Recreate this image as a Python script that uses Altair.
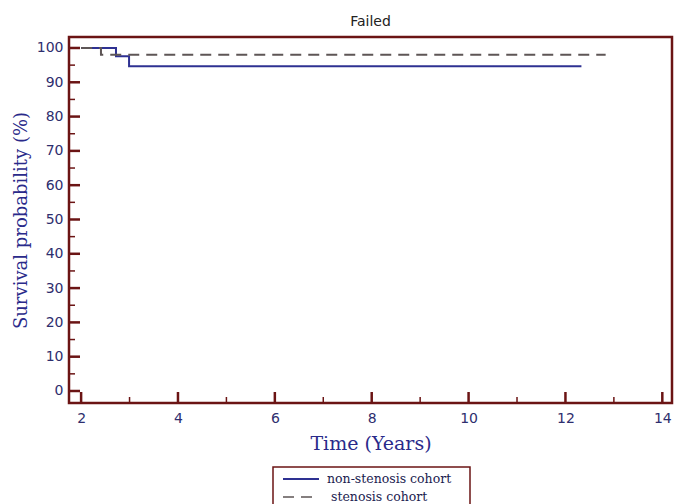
import altair as alt
import pandas as pd

# data
non_x = [2.0, 2.72, 2.99, 12.33]
non_y = [100.0, 97.6, 94.7, 94.7]
sten_x = [2.0, 2.41, 12.83]
sten_y = [100.0, 98.0, 98.0]
series = ["non-stenosis cohort", "stenosis cohort"]
x_major = [2, 4, 6, 8, 10, 12, 14]
x_minor = [3, 5, 7, 9, 11, 13]
y_major = [0, 10, 20, 30, 40, 50, 60, 70, 80, 90, 100]
y_minor = [5, 15, 25, 35, 45, 55, 65, 75, 85, 95]

df = pd.DataFrame(
    [{"t": x, "s": y, "g": series[0]} for x, y in zip(non_x, non_y)]
    + [{"t": x, "s": y, "g": series[1]} for x, y in zip(sten_x, sten_y)]
)

W, H = 603, 366
FRAME = "#6b1414"
LAB = "#2e2e6e"
COLS = ["#2e3192", "#5e5656"]
DASH = [[1, 0], [11, 7]]

xs = alt.Scale(domain=[1.75, 14.2], nice=False, zero=False)
ys = alt.Scale(domain=[-3.5, 103.2], nice=False, zero=False)

x_axis = alt.Axis(values=x_major, ticks=False, domain=False, grid=False,
                  labelPadding=8, labelFontSize=14, labelColor=LAB,
                  labelFont="DejaVu Sans", labelOverlap=False,
                  title="Time (Years)",
                  titleFont="DejaVu Serif", titleFontSize=19,
                  titleFontWeight="normal", titleColor="#2a2a8a",
                  titlePadding=9)
y_axis = alt.Axis(values=y_major, ticks=False, domain=False, grid=False,
                  labelPadding=6, labelFontSize=14, labelColor=LAB,
                  labelFont="DejaVu Sans", labelOverlap=False,
                  title="Survival probability (%)",
                  titleFont="DejaVu Serif", titleFontSize=18,
                  titleFontWeight="normal", titleColor="#2a2a8a",
                  titlePadding=6)

lines = alt.Chart(df).mark_line(interpolate="step-after", strokeWidth=2).encode(
    x=alt.X("t:Q", scale=xs, axis=x_axis),
    y=alt.Y("s:Q", scale=ys, axis=y_axis),
    color=alt.Color("g:N", scale=alt.Scale(domain=series, range=COLS), legend=None),
    strokeDash=alt.StrokeDash("g:N", scale=alt.Scale(domain=series, range=DASH), legend=None),
)

ymaj = alt.Chart(pd.DataFrame({"v": y_major})).mark_rule(color=FRAME, strokeWidth=2.5).encode(
    y=alt.Y("v:Q", scale=ys, axis=y_axis), x=alt.value(0), x2=alt.value(11))
ymin = alt.Chart(pd.DataFrame({"v": y_minor})).mark_rule(color=FRAME, strokeWidth=1.5).encode(
    y=alt.Y("v:Q", scale=ys, axis=y_axis), x=alt.value(0), x2=alt.value(6))
xmaj = alt.Chart(pd.DataFrame({"v": x_major})).mark_rule(color=FRAME, strokeWidth=2.5).encode(
    x=alt.X("v:Q", scale=xs, axis=x_axis), y=alt.value(H), y2=alt.value(H - 11))
xmin = alt.Chart(pd.DataFrame({"v": x_minor})).mark_rule(color=FRAME, strokeWidth=1.5).encode(
    x=alt.X("v:Q", scale=xs, axis=x_axis), y=alt.value(H), y2=alt.value(H - 6))

# legend (drawn by hand so the rows sit close together)
box = alt.Chart(pd.DataFrame({"a": [0]})).mark_rect(
    fill="white", stroke=FRAME, strokeWidth=1.5).encode(
    x=alt.value(204), x2=alt.value(401), y=alt.value(430), y2=alt.value(485))
leg_rows = []
for i, name in enumerate(series):
    yy = 442 + i * 18
    sw = alt.Chart(pd.DataFrame({"g": [name]})).mark_rule(
        strokeWidth=2 if i == 0 else 1.5, color=COLS[i], strokeDash=DASH[i]).encode(
        x=alt.value(214), x2=alt.value(250), y=alt.value(yy))
    tx = alt.Chart(pd.DataFrame({"g": [name]})).mark_text(
        align="left", baseline="middle", font="DejaVu Serif", fontSize=12.5,
        color="#1c1c50").encode(
        text="g:N", x=alt.value(258 + 4 * i), y=alt.value(yy))
    leg_rows += [sw, tx]

chart = alt.layer(lines, ymaj, ymin, xmaj, xmin, box, *leg_rows).properties(
    width=W, height=H,
    title=alt.Title("Failed", font="DejaVu Sans", fontSize=14, fontWeight="normal",
                    color="#222", offset=8),
    autosize=alt.AutoSizeParams(type="none"),
    padding={"left": 61, "top": 29, "right": 4, "bottom": 101},
).configure_view(stroke=FRAME, strokeWidth=2.5)

chart.save("out.html", embed_options={"renderer": "svg", "actions": False})
